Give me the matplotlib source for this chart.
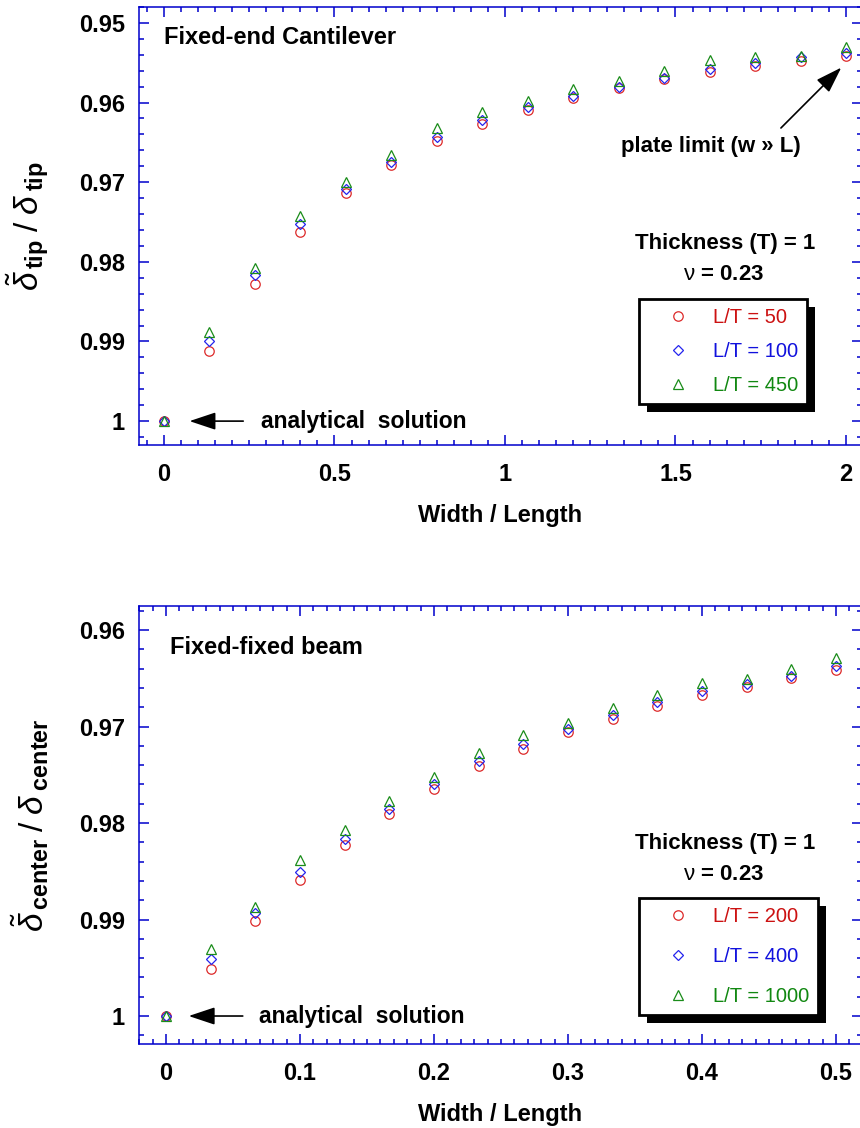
import matplotlib
matplotlib.use("Agg")
import matplotlib.pyplot as plt
from matplotlib.patches import Rectangle
from matplotlib.transforms import IdentityTransform
from matplotlib.ticker import MultipleLocator

plt.rcParams['font.family'] = ['Liberation Sans', 'DejaVu Sans']
plt.rcParams['mathtext.fontset'] = 'custom'
plt.rcParams['mathtext.rm'] = 'Liberation Sans'
plt.rcParams['mathtext.it'] = 'Liberation Sans:italic'
plt.rcParams['mathtext.bf'] = 'Liberation Sans:bold'

# cantilever: tip deflection ratio vs width/length
cant_x = [0, 0.1333, 0.2667, 0.4, 0.5333, 0.6667, 0.8, 0.9333, 1.0667, 1.2,
          1.3333, 1.4667, 1.6, 1.7333, 1.8667, 2.0]
cant_lt50 = [1.0, 0.99124, 0.98275, 0.97626, 0.97140, 0.96780, 0.96486, 0.96269,
             0.96097, 0.95938, 0.95821, 0.95707, 0.95620, 0.95536, 0.95477, 0.95415]
cant_lt100 = [1.0, 0.98991, 0.98170, 0.97529, 0.97081, 0.96746, 0.96428, 0.96219,
              0.96059, 0.95917, 0.95800, 0.95687, 0.95578, 0.95506, 0.95431, 0.95381]
cant_lt450 = [1.0, 0.98878, 0.98082, 0.97423, 0.96997, 0.96658, 0.96315, 0.96120,
              0.95986, 0.95833, 0.95725, 0.95609, 0.95465, 0.95427, 0.95421, 0.95297]

# fixed-fixed beam: center deflection ratio vs width/length
beam_x = [0, 0.0333, 0.0667, 0.1, 0.1333, 0.1667, 0.2, 0.2333, 0.2667, 0.3,
          0.3333, 0.3667, 0.4, 0.4333, 0.4667, 0.5]
beam_lt200 = [1.0, 0.99510, 0.99014, 0.98591, 0.98228, 0.97910, 0.97651, 0.97413,
              0.97230, 0.97060, 0.96919, 0.96788, 0.96677, 0.96587, 0.96501, 0.96418]
beam_lt400 = [1.0, 0.99406, 0.98929, 0.98508, 0.98163, 0.97852, 0.97596, 0.97361,
              0.97185, 0.97026, 0.96881, 0.96746, 0.96629, 0.96563, 0.96473, 0.96377]
beam_lt1000 = [1.0, 0.99304, 0.98871, 0.98383, 0.98073, 0.97770, 0.97518, 0.97273,
               0.97090, 0.96966, 0.96807, 0.96674, 0.96551, 0.96506, 0.96408, 0.96290]

cant_labels = ['L/T = 50', 'L/T = 100', 'L/T = 450']
beam_labels = ['L/T = 200', 'L/T = 400', 'L/T = 1000']

RED = '#dd2a2a'
BLUE = '#2424ee'
GREEN = '#1a8c1a'
AXC = '#0000cc'
TXT_COL = ['#cc1111', '#1111dd', '#118811']

fig = plt.figure(figsize=(8.6, 11.28), dpi=100)
# right edge of the frame sits just past the figure border
ax1 = fig.add_axes([139 / 860, 1 - 445 / 1128, 723 / 860, 438 / 1128])
ax2 = fig.add_axes([139 / 860, 1 - 1044 / 1128, 723 / 860, 438 / 1128])


def draw_series(ax, x, ys, labels):
    handles = []
    styles = [('o', RED, 6.8), ('D', BLUE, 4.6), ('^', GREEN, 6.8)]
    for y, lab, (m, c, ms) in zip(ys, labels, styles):
        h, = ax.plot(x, y, ls='none', marker=m, ms=ms, mfc='none', mec=c,
                     mew=0.9, label=lab, clip_on=False)
        handles.append(h)
    return handles


def style_axes(ax, xlim, ylim, xmaj, xmin, yticks):
    ax.set_xlim(*xlim)
    ax.set_ylim(*ylim)
    for s in ax.spines.values():
        s.set_color(AXC)
        s.set_linewidth(1.1)
    ax.xaxis.set_major_locator(MultipleLocator(xmaj))
    ax.xaxis.set_minor_locator(MultipleLocator(xmin))
    ax.yaxis.set_minor_locator(MultipleLocator(0.002))
    xt = [t for t in ax.get_xticks() if xlim[0] - 1e-9 <= t <= xlim[1] + 1e-9]
    ax.set_xticks(xt, ['%g' % round(t, 3) for t in xt], fontweight='bold', fontsize=17)
    ax.set_yticks(yticks, ['%g' % t for t in yticks], fontweight='bold', fontsize=17)
    ax.tick_params(which='both', direction='in', top=True, right=True,
                   color=AXC, width=1.1)
    ax.tick_params(which='major', length=7)
    ax.tick_params(which='minor', length=3.8)
    ax.tick_params(axis='y', pad=10)
    ax.tick_params(axis='x', pad=13)
    ax.set_xlabel('Width / Length', fontsize=17, fontweight='bold')
    ax.xaxis.set_label_coords(0.5, -0.135)


def add_legend(ax, handles, anchor, spacing):
    leg = ax.legend(handles=handles, loc='upper left', bbox_to_anchor=anchor,
                    fontsize=14.5, handlelength=3.0, handletextpad=0.2,
                    borderpad=0.45, labelspacing=spacing, framealpha=1,
                    fancybox=False, borderaxespad=0)
    fr = leg.get_frame()
    fr.set_edgecolor('black')
    fr.set_linewidth(2)
    for t, c in zip(leg.get_texts(), TXT_COL):
        t.set_color(c)
    return leg


def ratio_label(sub):
    return (r'$\tilde{\delta}_{\,\mathbf{%s}}\;/\;\delta_{\;\mathbf{%s}}$' % (sub, sub))


# top panel
h1 = draw_series(ax1, cant_x, [cant_lt50, cant_lt100, cant_lt450], cant_labels)
style_axes(ax1, (-0.0733, 2.047), (1.003, 0.948), 0.5, 0.05,
           [0.95, 0.96, 0.97, 0.98, 0.99, 1.0])
ax1.set_ylabel(ratio_label('tip'), fontsize=24)
ax1.yaxis.set_label_coords(-0.122, 0.5)
ax1.text(0.0345, 0.93, 'Fixed-end Cantilever', transform=ax1.transAxes,
         fontsize=17, fontweight='bold', va='center', ha='left')
ax1.text(0.81, 0.46, 'Thickness (T) = 1', transform=ax1.transAxes,
         fontsize=16, fontweight='bold', ha='center', va='center')
ax1.text(0.808, 0.39, r'$\mathrm{\nu}$ = 0.23', transform=ax1.transAxes,
         fontsize=16, fontweight='bold', ha='center', va='center')
ax1.annotate('', xy=(0.0666, 1.0), xytext=(0.2405, 1.0),
             arrowprops=dict(arrowstyle='-|>,head_length=0.9,head_width=0.3',
                             color='black', lw=1.2, mutation_scale=18))
ax1.text(0.2845, 1.0, 'analytical  solution', fontsize=16.5, fontweight='bold',
         ha='left', va='center')
ax1.annotate('', xy=(1.992, 0.95536), xytext=(1.8035, 0.96344),
             arrowprops=dict(arrowstyle='-|>,head_length=0.9,head_width=0.3',
                             color='black', lw=1.2, mutation_scale=18))
ax1.text(1.603, 0.96554, 'plate limit (w \u00bb L)', fontsize=16, fontweight='bold',
         ha='center', va='center')
leg1 = add_legend(ax1, h1, (0.6916, 0.3333), 0.75)

# bottom panel
h2 = draw_series(ax2, beam_x, [beam_lt200, beam_lt400, beam_lt1000], beam_labels)
style_axes(ax2, (-0.0201, 0.5194), (1.0029, 0.95751), 0.1, 0.01,
           [0.96, 0.97, 0.98, 0.99, 1.0])
ax2.set_ylabel(ratio_label('center'), fontsize=24)
ax2.yaxis.set_label_coords(-0.122, 0.5)
ax2.text(0.043, 0.906, 'Fixed-fixed beam', transform=ax2.transAxes,
         fontsize=17, fontweight='bold', va='center', ha='left')
ax2.text(0.81, 0.458, 'Thickness (T) = 1', transform=ax2.transAxes,
         fontsize=16, fontweight='bold', ha='center', va='center')
ax2.text(0.808, 0.386, r'$\mathrm{\nu}$ = 0.23', transform=ax2.transAxes,
         fontsize=16, fontweight='bold', ha='center', va='center')
ax2.annotate('', xy=(0.0149, 1.0), xytext=(0.0594, 1.0),
             arrowprops=dict(arrowstyle='-|>,head_length=0.9,head_width=0.3',
                             color='black', lw=1.2, mutation_scale=18))
ax2.text(0.0694, 1.0, 'analytical  solution', fontsize=16.5, fontweight='bold',
         ha='left', va='center')
leg2 = add_legend(ax2, h2, (0.6916, 0.3333), 1.05)

# solid drop shadow behind each legend box
fig.canvas.draw()
for ax, leg in [(ax1, leg1), (ax2, leg2)]:
    bb = leg.get_frame().get_window_extent()
    ax.add_artist(Rectangle((bb.x0 + 8, bb.y0 - 8), bb.width, bb.height,
                            transform=IdentityTransform(), facecolor='black',
                            edgecolor='none', zorder=4.9, clip_on=False))

fig.savefig('out.png', dpi=100)
